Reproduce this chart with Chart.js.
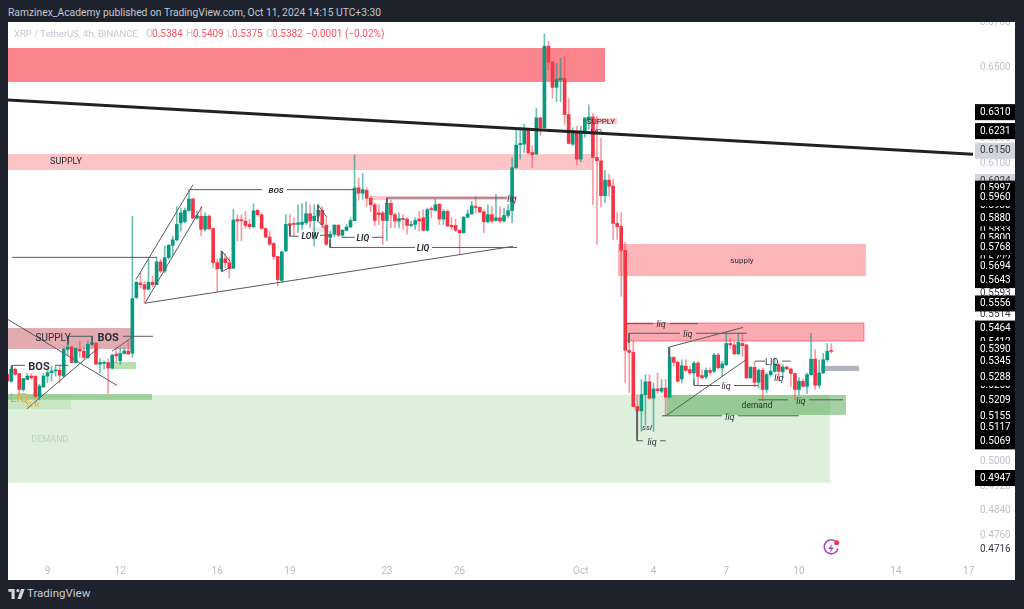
<!DOCTYPE html>
<html>
<head>
<meta charset="utf-8">
<title>XRP / TetherUS</title>
<script src="https://cdn.jsdelivr.net/npm/chart.js@4"></script>
<style>
    html, body { margin: 0; padding: 0; background: #1e222d; }
    body { width: 1024px; height: 609px; position: relative; overflow: hidden; font-family: Roboto, sans-serif; }
    #panel { position: absolute; left: 8px; top: 22px; width: 1007px; height: 558px; background: #fff; }
    canvas { display: block; }
    .t { position: absolute; white-space: nowrap; font-size: 10px; line-height: 12px; }
    #title { left: 8px; top: 7px; color: #c3c6ce; font-size: 10.3px; }
    .gray { color: #c4c7cf; top: 28px; }
    .red { color: #f7525f; top: 28px; }
    #brand { left: 27px; top: 587px; color: #c9ccd3; font-size: 11.5px; }
    #logo { position: absolute; left: 8px; top: 589px; }
    #bolt { position: absolute; left: 820px; top: 537px; }
</style>
</head>
<body>
<div id="panel"><canvas id="chart" width="1007" height="558"></canvas></div>
<div class="t" id="title">Ramzinex_Academy published on TradingView.com, Oct 11, 2024 14:15 UTC+3:30</div>
<div class="t gray" style="left:14px;font-size:9.5px">XRP / TetherUS, 4h, BINANCE</div>
<div class="t gray" style="left:146px">O</div><div class="t red" style="left:152px">0.5384</div>
<div class="t gray" style="left:186px">H</div><div class="t red" style="left:193px">0.5409</div>
<div class="t gray" style="left:227px">L</div><div class="t red" style="left:232px">0.5375</div>
<div class="t gray" style="left:266px">C</div><div class="t red" style="left:272px">0.5382</div>
<div class="t red" style="left:306px">−0.0001 (−0.02%)</div>
<svg id="bolt" width="22" height="22" viewBox="0 0 22 22">
    <path d="M16.5 5.2A7 7 0 1 0 18 11.5" fill="none" stroke="#ab47bc" stroke-width="1.6"/>
    <path d="M12.5 6.5L8 12h3l-1.5 4L14 10.5h-3z" fill="#ab47bc"/>
    <circle cx="16.7" cy="5.7" r="2.5" fill="#f23645"/>
</svg>
<svg id="logo" width="17" height="10" viewBox="0 0 36 22">
    <path d="M14 0H0v6h7v16h7zM28 22h-8L28 0h8z" fill="#d1d4dc"/>
    <circle cx="21" cy="3.5" r="3.5" fill="#d1d4dc"/>
</svg>
<div class="t" id="brand">TradingView</div>
<script>
// 4h candles, first one starts ten bars before Sep 9
const opens = [
    .5300,.5276,.5318,.5303,.5247,.5282,.5294,.5294,.5223,.5256,
    .5294,.5306,.5312,.5315,.5294,.5389,.5397,.5342,.5389,.5383,
    .5360,.5407,.5411,.5336,.5339,.5342,.5322,.5372,.5348,.5374,
    .5383,.5375,.5578,.5632,.5626,.5609,.5635,.5626,.5712,.5677,
    .5728,.5775,.5796,.5862,.5867,.5911,.5956,.5881,.5888,.5837,
    .5888,.5840,.5709,.5686,.5724,.5709,.5688,.5875,.5873,.5869,
    .5856,.5847,.5911,.5894,.5840,.5807,.5782,.5732,.5642,.5754,
    .5859,.5859,.5856,.5856,.5862,.5898,.5871,.5888,.5911,.5853,
    .5805,.5818,.5853,.5814,.5833,.5846,.5871,.6000,.5979,.5990,
    .5959,.5933,.5901,.5901,.5871,.5939,.5894,.5869,.5879,.5877,
    .5852,.5856,.5877,.5882,.5833,.5918,.5911,.5935,.5877,.5907,
    .5852,.5852,.5833,.5824,.5884,.5897,.5926,.5923,.5905,.5866,
    .5894,.5871,.5882,.5869,.5891,.5910,.6082,.6175,.6177,.6232,
    .6143,.6137,.6286,.6245,.6593,.6525,.6415,.6447,.6454,.6300,
    .6177,.6232,.6116,.6232,.6279,.6290,.6123,.6109,.5969,.6031,
    .6007,.5860,.5848,.5756,.5385,.5378,.5188,.5173,.5229,.5274,
    .5217,.5249,.5241,.5252,.5221,.5360,.5343,.5284,.5329,.5317,
    .5305,.5340,.5296,.5291,.5314,.5311,.5369,.5323,.5334,.5410,
    .5405,.5373,.5410,.5405,.5288,.5325,.5272,.5314,.5247,.5299,
    .5311,.5334,.5309,.5326,.5319,.5303,.5247,.5276,.5258,.5299,
    .5354,.5262,.5305,.5352,.5384
];
const highs = [
    .5300,.5330,.5322,.5303,.5285,.5303,.5303,.5294,.5265,.5303,
    .5318,.5330,.5330,.5330,.5395,.5431,.5401,.5395,.5419,.5395,
    .5419,.5431,.5413,.5356,.5348,.5354,.5372,.5395,.5395,.5395,
    .5419,.5888,.5638,.5670,.5638,.5722,.5658,.5728,.5722,.5773,
    .5779,.5811,.5926,.5920,.5920,.5993,.5959,.5907,.5926,.5901,
    .5894,.5843,.5722,.5754,.5741,.5728,.5916,.5894,.5894,.5907,
    .5875,.5937,.5914,.5901,.5843,.5830,.5786,.5734,.5754,.5894,
    .5894,.5882,.5933,.5939,.5946,.5933,.5933,.5933,.5926,.5882,
    .5830,.5856,.5855,.5837,.5856,.5882,.6132,.6040,.6058,.6000,
    .5966,.5939,.5933,.5907,.5959,.5952,.5901,.5901,.5894,.5882,
    .5869,.5882,.5907,.5914,.5920,.5926,.5955,.5939,.5914,.5914,
    .5882,.5877,.5837,.5888,.5914,.5946,.5966,.5926,.5914,.5933,
    .5926,.5973,.5926,.5920,.5933,.6122,.6239,.6248,.6259,.6239,
    .6171,.6327,.6290,.6647,.6614,.6525,.6518,.6540,.6547,.6368,
    .6245,.6252,.6252,.6286,.6341,.6304,.6293,.6201,.6071,.6055,
    .6035,.5901,.5902,.5787,.5422,.5419,.5229,.5282,.5299,.5299,
    .5270,.5305,.5282,.5282,.5393,.5364,.5346,.5352,.5352,.5329,
    .5346,.5346,.5317,.5323,.5323,.5375,.5375,.5346,.5448,.5428,
    .5416,.5448,.5448,.5407,.5329,.5346,.5319,.5323,.5305,.5334,
    .5358,.5340,.5334,.5329,.5323,.5305,.5288,.5284,.5305,.5448,
    .5387,.5352,.5375,.5410,.5409
];
const lows = [
    .5276,.5271,.5297,.5229,.5241,.5282,.5282,.5217,.5211,.5253,
    .5271,.5276,.5294,.5271,.5291,.5366,.5342,.5339,.5360,.5354,
    .5357,.5401,.5336,.5306,.5318,.5233,.5318,.5342,.5336,.5372,
    .5372,.5360,.5574,.5613,.5556,.5606,.5619,.5626,.5670,.5670,
    .5722,.5734,.5792,.5830,.5862,.5907,.5878,.5875,.5811,.5830,
    .5837,.5690,.5600,.5677,.5690,.5651,.5686,.5792,.5792,.5841,
    .5839,.5843,.5888,.5837,.5805,.5775,.5722,.5622,.5635,.5751,
    .5818,.5811,.5824,.5837,.5856,.5843,.5773,.5869,.5843,.5775,
    .5766,.5808,.5808,.5805,.5830,.5843,.5869,.5952,.5955,.5926,
    .5907,.5850,.5856,.5779,.5792,.5843,.5843,.5843,.5837,.5818,
    .5847,.5837,.5830,.5830,.5830,.5882,.5907,.5856,.5856,.5847,
    .5837,.5828,.5741,.5821,.5882,.5894,.5901,.5901,.5824,.5862,
    .5862,.5869,.5862,.5865,.5882,.5862,.6078,.6116,.6143,.6137,
    .6082,.6133,.6214,.6241,.6490,.6368,.6354,.6354,.6259,.6177,
    .6171,.6092,.6105,.6205,.6239,.5933,.5779,.5926,.5942,.5967,
    .5796,.5798,.5583,.5271,.5236,.5187,.5086,.5103,.5125,.5213,
    .5103,.5233,.5235,.5156,.5217,.5329,.5272,.5270,.5311,.5299,
    .5264,.5264,.5284,.5284,.5299,.5305,.5319,.5293,.5331,.5393,
    .5369,.5369,.5364,.5284,.5284,.5256,.5252,.5209,.5235,.5293,
    .5307,.5276,.5288,.5317,.5258,.5211,.5229,.5256,.5233,.5297,
    .5247,.5252,.5303,.5346,.5375
];
const closes = [
    .5276,.5318,.5300,.5247,.5285,.5294,.5288,.5223,.5259,.5294,
    .5306,.5312,.5315,.5297,.5389,.5397,.5342,.5392,.5383,.5360,
    .5407,.5413,.5336,.5342,.5342,.5322,.5368,.5366,.5374,.5383,
    .5372,.5574,.5635,.5626,.5609,.5635,.5626,.5712,.5677,.5728,
    .5775,.5796,.5856,.5901,.5911,.5956,.5881,.5890,.5837,.5888,
    .5839,.5709,.5686,.5724,.5709,.5686,.5873,.5869,.5870,.5852,
    .5847,.5909,.5894,.5840,.5807,.5779,.5732,.5645,.5750,.5856,
    .5852,.5856,.5862,.5865,.5898,.5869,.5888,.5911,.5856,.5779,
    .5818,.5853,.5814,.5833,.5846,.5871,.6000,.5979,.5993,.5959,
    .5933,.5871,.5894,.5871,.5939,.5894,.5869,.5879,.5875,.5852,
    .5856,.5871,.5869,.5833,.5914,.5914,.5933,.5877,.5907,.5850,
    .5847,.5833,.5824,.5884,.5897,.5929,.5922,.5905,.5866,.5894,
    .5869,.5882,.5869,.5891,.5910,.6081,.6173,.6180,.6232,.6141,
    .6134,.6286,.6245,.6593,.6525,.6415,.6450,.6454,.6300,.6180,
    .6232,.6116,.6232,.6286,.6290,.6123,.6109,.5969,.6031,.6007,
    .5860,.5847,.5756,.5386,.5378,.5188,.5173,.5229,.5274,.5217,
    .5249,.5243,.5252,.5220,.5360,.5343,.5276,.5331,.5314,.5305,
    .5340,.5293,.5288,.5314,.5307,.5369,.5323,.5337,.5410,.5405,
    .5373,.5414,.5402,.5288,.5325,.5272,.5314,.5247,.5299,.5311,
    .5334,.5311,.5326,.5319,.5303,.5247,.5276,.5258,.5299,.5354,
    .5262,.5305,.5352,.5382,.5382
];

// x axis: days counted from Sep 9
const dayTicks = [0, 3, 7, 10, 14, 17, 22, 25, 28, 31, 35, 38];
const dayLabels = ['9', '12', '16', '19', '23', '26', 'Oct', '4', '7', '10', '14', '17'];

// price axis labels, later ones paint over earlier ones
const grayPrices = [0.67, 0.65, 0.62, 0.61, 0.5, 0.492, 0.484, 0.476];
const darkPrices = [0.5593, 0.5514, 0.4716];
const silverPrices = [0.615, 0.6024];
const boxedUnder = [0.5997, 0.593, 0.5833, 0.58, 0.5722, 0.5672, 0.5643, 0.5427, 0.5412, 0.532, 0.526, 0.5177];
const boxedOver = [0.631, 0.6231, 0.596, 0.588, 0.5768, 0.5694, 0.5556, 0.5464, 0.539, 0.5345, 0.5288, 0.5209, 0.5155, 0.5117, 0.5069, 0.4947];

// zones: day from, day to, top price, bottom price
const zones = [
    [-1.63, 32.28, .5228, .4931],
    [-1.63, 23.00, .6585, .6438],
    [-1.63, 22.46, .6137, .6072],
    [22.21, 23.49, .6285, .6260],
    [23.53, 33.76, .5780, .5658],
    [23.82, 33.68, .5484, .5419],
    [-1.63, 3.44, .5466, .5390],
    [2.70, 3.65, .5344, .5319],
    [-1.63, 4.31, .5231, .5211],
    [-1.63, 0.97, .5211, .5179],
    [25.55, 32.94, .5228, .5159],
    [31.91, 33.48, .5330, .5312],
    [10.91, 11.57, .5846, .5827],
    [13.30, 19.37, .5968, .5952]
];
const zoneColors = ['#deefdc', '#fb858d', '#fdc4c7', '#fdc4c7', '#feb5ba', 'rgba(242,54,69,.42)', '#e2abb0',
    '#b8dfb0', '#9ccf9a', '#c8e5c4', 'rgba(76,165,76,.5)', '#b0b3c0', '#ebebeb', '#fdc8c8'];

const trendLine = [-1.63, .6361, 38.18, .6136];

// drawn tool segments: day, price, day, price
const toolLines = [
    [-1.63, .5497, 2.87, .5261], [-.85, .5180, 2.04, .5390], [2.66, .5382, 3.44, .5429],
    [.85, .5436, 1.88, .5436], [.85, .5436, .85, .5407], [1.84, .5436, 1.84, .5407], [3.11, .5436, 4.35, .5436],
    [-1.46, .5332, -.93, .5332], [-1.46, .5332, -1.46, .5311], [.31, .5332, .85, .5332],
    [-1.46, .5729, 4.52, .5729],
    [3.65, .5645, 6.0, .6013], [4.02, .5557, 6.37, .5925], [4.02, .5557, 19.2, .5771],
    [5.88, .5993, 8.85, .5993], [9.88, .5993, 12.68, .5993],
    [7.20, .5752, 7.53, .5714], [7.20, .5675, 7.53, .5691], [7.20, .5752, 7.20, .5675],
    [10.0, .5856, 10.0, .5810], [10.0, .5810, 10.37, .5810], [11.24, .5814, 11.65, .5814],
    [11.16, .5933, 11.53, .5883], [11.16, .5933, 11.16, .5868], [11.16, .5868, 11.57, .5829],
    [12.15, .5806, 12.68, .5806], [13.39, .5806, 13.84, .5806],
    [11.65, .5798, 11.65, .5767], [11.65, .5767, 15.16, .5767], [15.86, .5767, 19.37, .5767],
    [14.0, .5960, 18.95, .5960], [14.0, .5960, 14.0, .5933],
    [23.82, .5482, 24.98, .5482], [25.68, .5482, 26.83, .5482],
    [23.99, .5447, 26.09, .5447], [26.75, .5447, 28.85, .5447], [23.99, .5447, 23.99, .5412],
    [25.64, .5397, 28.69, .5468], [25.64, .5397, 25.64, .5361], [25.51, .5156, 28.85, .5354],
    [25.35, .5156, 27.82, .5156], [28.48, .5156, 31.0, .5156],
    [26.67, .5261, 27.74, .5261], [28.32, .5261, 29.31, .5261], [26.67, .5261, 26.67, .5282],
    [29.19, .5347, 29.60, .5347], [30.30, .5347, 30.67, .5347],
    [29.31, .5211, 30.55, .5211], [31.41, .5211, 32.82, .5211],
    [24.32, .5177, 24.32, .5071], [24.32, .5071, 24.56, .5071], [25.27, .5071, 25.51, .5071]
];

// text notes: text, day, price
const notes = [
    ['SUPPLY', .76, .6112], ['SUPPLY', .23, .5432], ['BOS', 2.5, .5436], ['BOS', -.35, .5332],
    ['LIQ', -1.18, .5218], ['F/R', -.6, .5197], ['DEMAND', .1, .5081], ['BOS', 9.43, .5993],
    ['LOW', 10.83, .5814], ['LIQ', 13.01, .5806], ['LIQ', 15.49, .5767], ['liq', 19.16, .5960],
    ['SUPPLY', 22.83, .6275], ['LIQ', 22.63, .6234], ['supply', 28.65, .5722], ['liq', 25.31, .5482],
    ['liq', 26.42, .5447], ['liq', 27.99, .5261], ['LIQ', 29.88, .5347], ['liq', 30.17, .5290],
    ['liq', 31.08, .5211], ['demand', 29.27, .5194], ['liq', 28.15, .5156], ['ssl', 24.73, .5119], ['liq', 24.94, .5071]
];
const noteFonts = ['9px', '10px', 'bold 11px', 'bold 11px', '12px', '8px', '9px', 'italic bold 8px',
    'italic bold 8.5px', 'italic bold 8.5px', 'italic bold 8.5px', 'italic 9px', '8px', 'italic 8px', '8px', 'italic 9px',
    'italic 9px', 'italic 9px', '9px', 'italic 9px', 'italic 9px', '8.5px', 'italic 9px', 'italic 8px', 'italic 9px'];
const noteColors = { 4: '#f5a623', 5: '#f5a623', 6: '#b5d8b2' };

const GREEN = '#089981';
const RED = '#f23645';
const GREEN_WICK = 'rgba(8,153,129,.6)';
const RED_WICK = 'rgba(242,54,69,.5)';

function barDay(i) {
    return (i - 10) / 6;
}

const zonePlugin = {
    id: 'zones',
    beforeDatasetsDraw(chart) {
        const { ctx, scales: { x, y } } = chart;
        zones.forEach((z, i) => {
            const left = x.getPixelForValue(z[0]);
            const right = x.getPixelForValue(z[1]);
            const top = y.getPixelForValue(z[2]);
            const bottom = y.getPixelForValue(z[3]);
            ctx.fillStyle = zoneColors[i];
            ctx.fillRect(left, top, right - left, bottom - top);
            if (i === 5) {
                ctx.strokeStyle = 'rgba(242,54,69,.6)';
                ctx.strokeRect(left, top, right - left, bottom - top);
            }
        });
    }
};

const notePlugin = {
    id: 'notes',
    afterDatasetsDraw(chart) {
        const { ctx, scales: { x, y } } = chart;
        ctx.save();
        ctx.textAlign = 'center';
        ctx.textBaseline = 'middle';
        notes.forEach((n, i) => {
            ctx.font = noteFonts[i] + ' Roboto, sans-serif';
            ctx.fillStyle = noteColors[i] || '#2a2e39';
            // middle baseline sits a little high for this font
            ctx.fillText(n[0], x.getPixelForValue(n[1]), y.getPixelForValue(n[2]) + 1.5);
        });
        ctx.restore();
    }
};

function segment(s, color, width) {
    return {
        type: 'line',
        data: [{ x: s[0], y: s[1] }, { x: s[2], y: s[3] }],
        borderColor: color,
        borderWidth: width,
        pointRadius: 0,
        order: 0
    };
}

const isUp = opens.map((o, i) => closes[i] >= o);

const priceTicks = [...grayPrices, ...darkPrices, ...silverPrices, ...boxedUnder, ...boxedOver];

function tickBack(v) {
    if (silverPrices.includes(v)) return '#d1d4dc';
    return '#000';
}

function tickColor(v) {
    if (grayPrices.includes(v)) return '#c0c3ca';
    if (darkPrices.includes(v) || silverPrices.includes(v)) return '#363a45';
    return '#fff';
}

new Chart(document.getElementById('chart').getContext('2d'), {
    type: 'bar',
    data: {
        datasets: [
            segment(trendLine, '#222', 3),
            ...toolLines.map(s => segment(s, '#565a63', 1)),
            {
                // candle bodies
                data: opens.map((o, i) => ({ x: barDay(i), y: [Math.min(o, closes[i]), Math.max(o, closes[i])] })),
                backgroundColor: isUp.map(u => u ? GREEN : RED),
                barThickness: 3,
                minBarLength: 1,
                grouped: false,
                order: 1
            },
            {
                // candle wicks
                data: lows.map((l, i) => ({ x: barDay(i), y: [l, highs[i]] })),
                backgroundColor: isUp.map(u => u ? GREEN_WICK : RED_WICK),
                barThickness: 1,
                grouped: false,
                order: 2
            }
        ]
    },
    options: {
        responsive: false,
        animation: false,
        layout: { padding: 0 },
        plugins: { legend: { display: false }, tooltip: { enabled: false } },
        scales: {
            x: {
                type: 'linear',
                min: -1.63,
                max: 38.18,
                offset: false,
                grid: { display: false, drawTicks: false },
                border: { display: false },
                afterBuildTicks: axis => { axis.ticks = dayTicks.map(d => ({ value: d })); },
                afterFit: axis => { axis.height = 25; axis.paddingLeft = 0; axis.paddingRight = 0; },
                ticks: {
                    autoSkip: false,
                    maxRotation: 0,
                    padding: 10,
                    color: '#b8bbc3',
                    font: { family: 'Roboto', size: 10 },
                    callback: v => dayLabels[dayTicks.indexOf(v)]
                }
            },
            y: {
                type: 'logarithmic',
                position: 'right',
                min: 0.47,
                max: 0.67,
                grid: { display: false, drawTicks: false },
                border: { display: false },
                afterBuildTicks: axis => { axis.ticks = priceTicks.map(v => ({ value: v })); },
                afterFit: axis => { axis.width = 42; axis.paddingTop = 0; axis.paddingBottom = 0; },
                ticks: {
                    autoSkip: false,
                    padding: 7,
                    font: { family: 'Roboto', size: 10 },
                    color: c => tickColor(c.tick.value),
                    showLabelBackdrop: c => !grayPrices.includes(c.tick.value) && !darkPrices.includes(c.tick.value),
                    backdropColor: c => tickBack(c.tick.value),
                    backdropPadding: { x: 5, y: 2 },
                    callback: v => v.toFixed(4)
                }
            }
        }
    },
    plugins: [zonePlugin, notePlugin]
});
</script>
</body>
</html>
